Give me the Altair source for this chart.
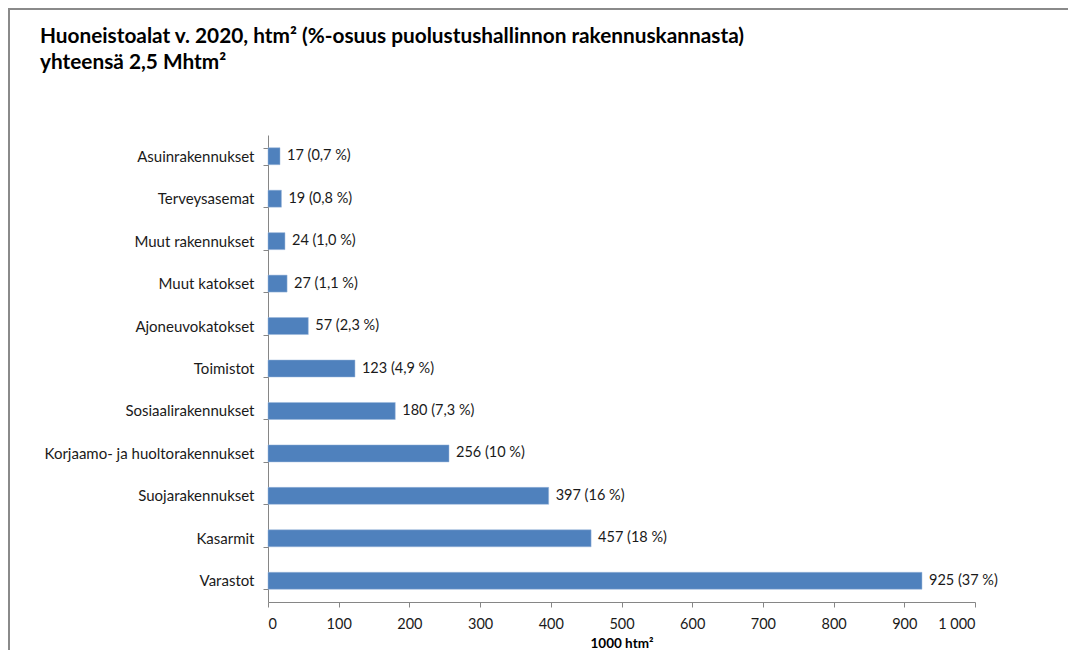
import altair as alt
import pandas as pd

categories = ["Asuinrakennukset", "Terveysasemat", "Muut rakennukset", "Muut katokset",
              "Ajoneuvokatokset", "Toimistot", "Sosiaalirakennukset",
              "Korjaamo- ja huoltorakennukset", "Suojarakennukset", "Kasarmit", "Varastot"]
values = [17, 19, 24, 27, 57, 123, 180, 256, 397, 457, 925]
shares = ["0,7", "0,8", "1,0", "1,1", "2,3", "4,9", "7,3", "10", "16", "18", "37"]
x_ticks = [0, 100, 200, 300, 400, 500, 600, 700, 800, 900, 1000]

df = pd.DataFrame({
    "cat": categories,
    "val": values,
    "label": [f"{v} ({s} %)" for v, s in zip(values, shares)],
})

FONT = "Lato"
GREY = "#868686"

y_enc = alt.Y("cat:N", sort=categories, title=None,
              scale=alt.Scale(paddingInner=0.6, paddingOuter=0.3),
              axis=alt.Axis(tickBand="extent", tickSize=5, labelPadding=9,
                            labelFontSize=15, labelFont=FONT, labelColor="#1a1a1a",
                            domainColor=GREY, tickColor=GREY, labelLimit=400))
x_enc = alt.X("val:Q", title="1000 htm²",
              scale=alt.Scale(domain=[0, 1000], nice=False),
              axis=alt.Axis(values=x_ticks, grid=False, tickSize=5, labelPadding=10,
                            labelExpr="replace(format(datum.value, ','), ',', ' ')",
                            labelFontSize=14.5, labelFont=FONT, labelColor="#1a1a1a",
                            domainColor=GREY, tickColor=GREY,
                            titleFont=FONT, titleFontSize=13.5, titleFontWeight="bold",
                            titleColor="#000000", titlePadding=6))

bars = alt.Chart(df).mark_bar(color="#4F81BD", stroke="#9BB7DA", strokeWidth=0.5).encode(
    x=x_enc, y=y_enc)

labels = alt.Chart(df).mark_text(align="left", baseline="middle", dx=7,
                                 font=FONT, fontSize=14.5, color="#1a1a1a").encode(
    x="val:Q", y=alt.Y("cat:N", sort=categories), text="label:N")

frame_top = alt.Chart(df).mark_rule(color="#8a8a8a", strokeWidth=2).encode(
    x=alt.value(-259), x2=alt.value(800), y=alt.value(-126))
frame_left = alt.Chart(df).mark_rect(color="#8a8a8a", strokeWidth=0).encode(
    x=alt.value(-260), x2=alt.value(-258), y=alt.value(-127), y2=alt.value(515))

chart = alt.layer(frame_top, frame_left, bars, labels).properties(
    width=707, height=467,
    autosize=alt.AutoSizeParams(type="none"),
    padding={"left": 260, "top": 127, "right": 94, "bottom": 49},
    title=alt.TitleParams(
        text=["Huoneistoalat v. 2020, htm² (%-osuus puolustushallinnon rakennuskannasta)",
              "yhteensä 2,5 Mhtm²"],
        anchor="start", frame="group", dx=-228, dy=66, font=FONT, fontSize=20.8,
        fontWeight="bold", color="#000000", lineHeight=26, offset=0),
).configure_view(stroke=None)

chart.save("out.html", embed_options={"renderer": "svg", "actions": False})
